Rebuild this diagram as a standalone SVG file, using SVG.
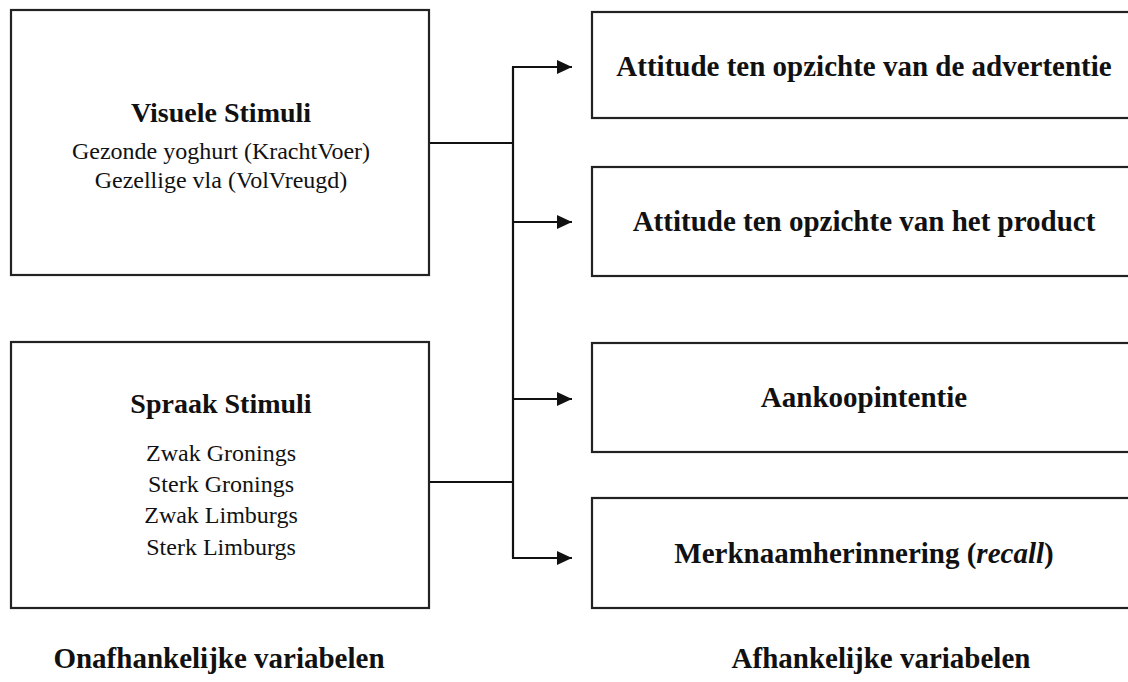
<svg xmlns="http://www.w3.org/2000/svg" width="1128" height="682" viewBox="0 0 1128 682">
<style>
.box{fill:#fff;stroke:#222;stroke-width:2.2}
.ln{fill:none;stroke:#111;stroke-width:2.2}
text{font-family:"Liberation Serif","Times New Roman",serif;fill:#111;text-anchor:middle}
.t{font-weight:bold;font-size:28px}
.s{font-size:24px}
.r{font-weight:bold;font-size:29px}
</style>
<defs>
<marker id="ah" markerUnits="userSpaceOnUse" markerWidth="16" markerHeight="14" refX="15" refY="7" orient="auto">
<path d="M0,0 L15,7 L0,14 Z" fill="#111"/>
</marker>
</defs>
<rect width="1128" height="682" fill="#fff"/>
<g id="connectors">
<path class="ln" d="M429,143 H513"/>
<path class="ln" d="M429,482 H513"/>
<path class="ln" d="M513,67 V558"/>
<path class="ln" d="M512,67 H572" marker-end="url(#ah)"/>
<path class="ln" d="M512,222 H572" marker-end="url(#ah)"/>
<path class="ln" d="M512,399 H572" marker-end="url(#ah)"/>
<path class="ln" d="M512,558 H572" marker-end="url(#ah)"/>
</g>
<g id="visuele">
<rect class="box" x="11" y="10" width="418" height="265"/>
<text class="t" x="221" y="122">Visuele Stimuli</text>
<text class="s" x="221" y="159">Gezonde yoghurt (KrachtVoer)</text>
<text class="s" x="221" y="188">Gezellige vla (VolVreugd)</text>
</g>
<g id="spraak">
<rect class="box" x="11" y="342" width="418" height="266"/>
<text class="t" x="221" y="413">Spraak Stimuli</text>
<text class="s" x="221" y="461">Zwak Gronings</text>
<text class="s" x="221" y="492">Sterk Gronings</text>
<text class="s" x="221" y="523">Zwak Limburgs</text>
<text class="s" x="221" y="555">Sterk Limburgs</text>
</g>
<g id="attitude-advertentie">
<rect class="box" x="592" y="12" width="544" height="106"/>
<text class="r" x="864" y="76">Attitude ten opzichte van de advertentie</text>
</g>
<g id="attitude-product">
<rect class="box" x="592" y="167" width="544" height="109"/>
<text class="r" x="864" y="231">Attitude ten opzichte van het product</text>
</g>
<g id="aankoopintentie">
<rect class="box" x="592" y="343" width="544" height="109"/>
<text class="r" x="864" y="407">Aankoopintentie</text>
</g>
<g id="merknaam">
<rect class="box" x="592" y="498" width="544" height="110"/>
<text class="r" x="864" y="563">Merknaamherinnering (<tspan font-style="italic">recall</tspan>)</text>
</g>
<g id="labels">
<text class="r" x="219" y="668">Onafhankelijke variabelen</text>
<text class="r" x="881" y="668">Afhankelijke variabelen</text>
</g>
</svg>
